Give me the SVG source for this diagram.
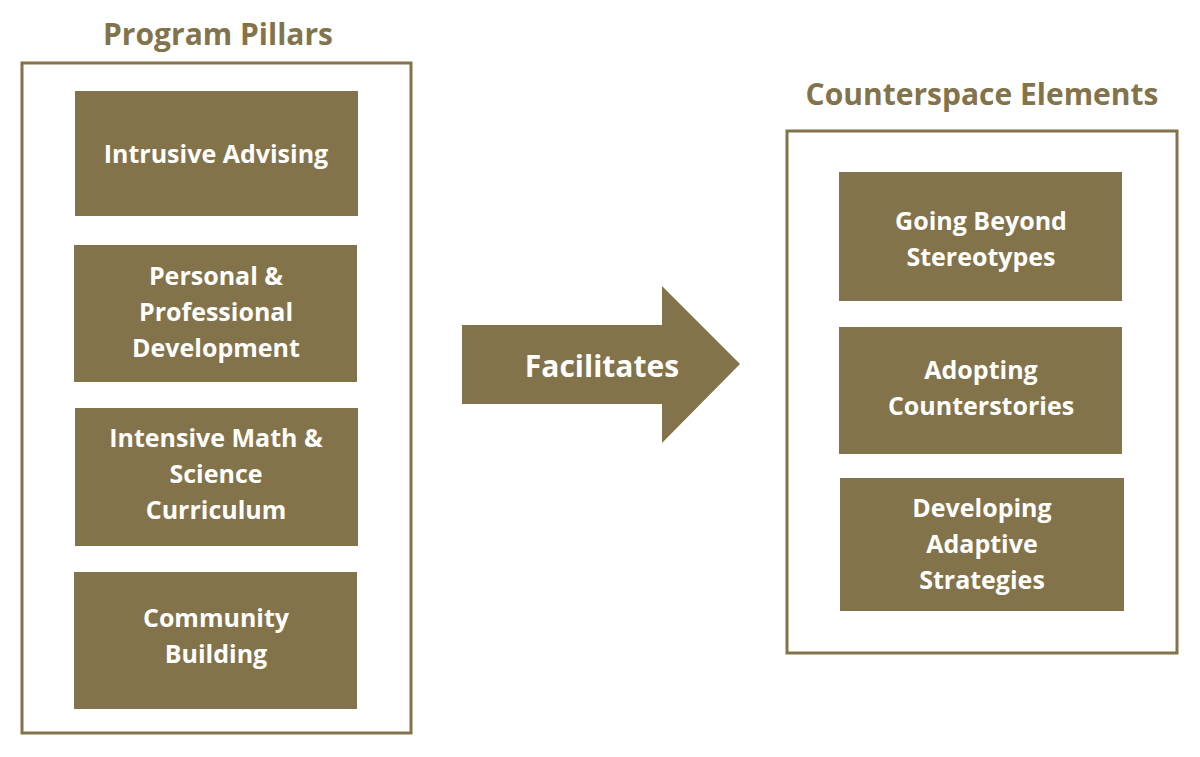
<svg xmlns="http://www.w3.org/2000/svg" width="1200" height="757" viewBox="0 0 1200 757">
<style>
.frame{fill:none;stroke:#82734A;stroke-width:3}
.box{fill:#82734A}
.t{font-family:"Open Sans",Lato,sans-serif;font-weight:bold;font-size:25px;fill:#FFFFFF;text-anchor:middle}
.title{font-family:"Open Sans",Lato,sans-serif;font-weight:bold;font-size:30px;fill:#82734A;text-anchor:middle}
</style>
<rect width="1200" height="757" fill="#FFFFFF"/>
<g id="program-pillars">
<text class="title" x="218" y="45">Program Pillars</text>
<rect class="frame" x="22" y="63" width="389" height="670"/>
</g>
<g id="intrusive-advising"><rect class="box" x="75" y="91" width="283" height="125"/><text class="t" x="216" y="163">Intrusive Advising</text></g>
<g id="personal-professional"><rect class="box" x="74" y="245" width="283" height="137"/><text class="t" x="216" y="285">Personal &amp;<tspan x="216" dy="36">Professional</tspan><tspan x="216" dy="36">Development</tspan></text></g>
<g id="intensive-math"><rect class="box" x="75" y="408" width="283" height="138"/><text class="t" x="216" y="447">Intensive Math &amp;<tspan x="216" dy="36">Science</tspan><tspan x="216" dy="36">Curriculum</tspan></text></g>
<g id="community-building"><rect class="box" x="74" y="572" width="283" height="137"/><text class="t" x="216" y="627">Community<tspan x="216" dy="36">Building</tspan></text></g>
<g id="counterspace-elements">
<text class="title" x="982" y="105">Counterspace Elements</text>
<rect class="frame" x="787" y="131" width="390" height="522"/>
</g>
<g id="going-beyond"><rect class="box" x="839" y="172" width="283" height="129"/><text class="t" x="981" y="230">Going Beyond<tspan x="981" dy="36">Stereotypes</tspan></text></g>
<g id="adopting-counterstories"><rect class="box" x="839" y="327" width="283" height="127"/><text class="t" x="981" y="379">Adopting<tspan x="981" dy="36">Counterstories</tspan></text></g>
<g id="developing-adaptive"><rect class="box" x="840" y="478" width="284" height="133"/><text class="t" x="982" y="517">Developing<tspan x="982" dy="36">Adaptive</tspan><tspan x="982" dy="36">Strategies</tspan></text></g>
<g id="connectors">
<g id="facilitates-arrow"><polygon class="box" points="462,325 662,325 662,286 740,364 662,443 662,404 462,404"/><text class="t" x="602" y="377" style="font-size:30px">Facilitates</text></g>
</g>
</svg>
